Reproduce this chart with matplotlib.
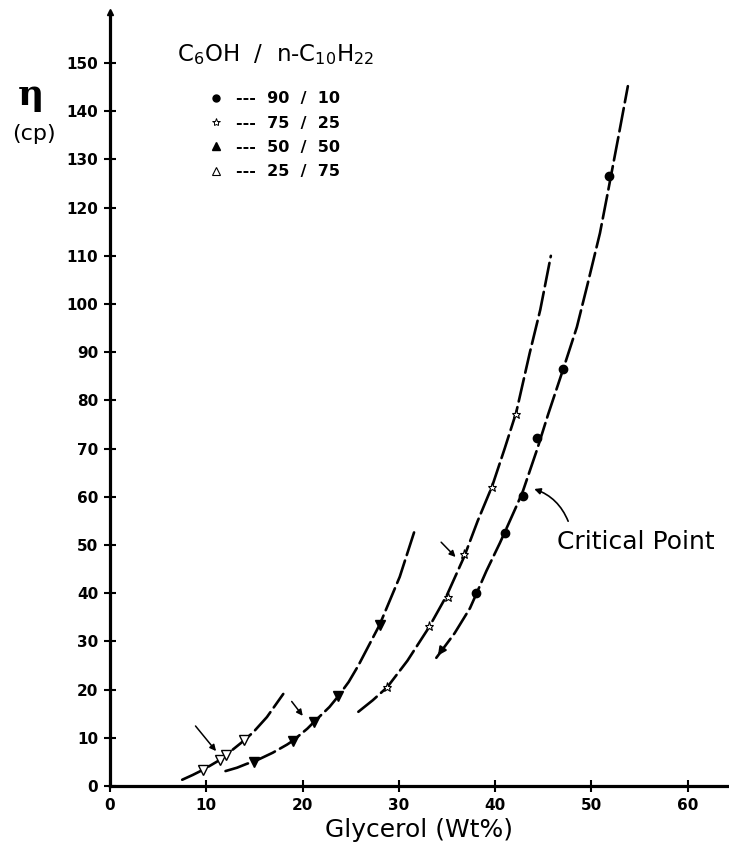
import matplotlib
matplotlib.use("Agg")
from matplotlib import pyplot as plt
from matplotlib.lines import Line2D

# data points
x_90 = [38.0, 41.0, 42.9, 44.4, 47.1, 51.8]
y_90 = [40.0, 52.5, 60.2, 72.2, 86.5, 126.5]
x_75 = [28.8, 33.1, 35.1, 36.8, 39.7, 42.2]
y_75 = [20.5, 33.2, 39.2, 48.1, 62.0, 77.2]
x_50 = [15.0, 19.0, 21.2, 23.7, 28.0]
y_50 = [5.0, 9.4, 13.3, 18.7, 33.4]
x_25 = [9.7, 11.4, 12.1, 13.9]
y_25 = [3.4, 5.4, 6.5, 9.5]

# hand drawn curves
cx_25 = [7.5, 8.6, 9.7, 11.4, 12.1, 13.9, 14.9, 16.3, 18.0]
cy_25 = [1.3, 2.3, 3.4, 5.4, 6.5, 9.4, 11.2, 14.3, 19.1]
cx_50 = [12.0, 13.2, 14.2, 15.0, 16.9, 18.4, 19.0, 20.5, 21.2, 22.8, 23.7,
         24.8, 25.8, 28.0, 30.1, 31.7]
cy_50 = [3.1, 3.8, 4.6, 5.1, 6.9, 8.6, 9.4, 11.9, 13.3, 16.4, 18.6,
         21.6, 25.0, 33.4, 43.4, 53.3]
cx_75 = [25.8, 27.3, 28.8, 30.9, 33.1, 35.0, 36.8, 38.2, 39.7, 41.0, 42.2,
         43.6, 44.7, 45.8]
cy_75 = [15.4, 17.8, 20.5, 26.0, 32.8, 39.6, 47.6, 55.0, 62.2, 70.0, 77.5,
         89.8, 98.8, 110.0]
cx_90 = [33.9, 35.8, 37.4, 38.0, 39.1, 40.5, 41.0, 42.3, 42.9, 44.4, 45.5,
         46.5, 47.1, 48.5, 49.6, 50.9, 51.8, 52.8, 53.8]
cy_90 = [26.6, 31.7, 36.9, 39.6, 44.6, 50.4, 52.6, 58.4, 61.2, 70.0, 77.0,
         83.0, 86.6, 95.2, 104.0, 114.7, 124.0, 134.5, 145.2]

xticks = [0, 10, 20, 30, 40, 50, 60]
yticks = list(range(0, 151, 10))

fig = plt.figure(figsize=(7.29, 8.46), dpi=100)
ax = fig.add_axes([0.1509, 0.0709, 0.849, 0.915])

dash = (0, (9, 2.2))
for cx, cy in [(cx_25, cy_25), (cx_50, cy_50), (cx_75, cy_75), (cx_90, cy_90)]:
    ax.plot(cx, cy, color='black', lw=1.9, linestyle=dash, solid_joinstyle='round',
            dash_capstyle='round', dash_joinstyle='round', zorder=2)

ax.plot(x_90, y_90, 'o', color='black', ms=6, zorder=3)
ax.plot(x_75, y_75, '*', mfc='white', mec='black', mew=0.8, ms=6.5, zorder=3)
ax.plot(x_50, y_50, 'v', color='black', ms=7, zorder=3)
ax.plot(x_25, y_25, 'v', mfc='white', mec='black', mew=1.0, ms=7, zorder=3)

ax.set_xlim(0, 64.3)
ax.set_ylim(0, 160.6)
ax.set_xticks(xticks)
ax.set_yticks(yticks)
ax.set_xticklabels([str(t) for t in xticks], fontweight='bold', fontsize=11)
ax.set_yticklabels([str(t) for t in yticks], fontweight='bold', fontsize=11)
ax.tick_params(direction='inout', length=9, width=1.5, pad=4)
for s in ['top', 'right']:
    ax.spines[s].set_visible(False)
for s in ['left', 'bottom']:
    ax.spines[s].set_linewidth(2.3)
ax.plot(0, 1, '^', color='black', ms=5, transform=ax.transAxes, clip_on=False)

ax.text(-0.128, 0.893, 'η', fontsize=26, family='DejaVu Serif', fontweight='bold',
        ha='center', va='center', transform=ax.transAxes)
ax.text(-0.123, 0.842, '(cp)', fontsize=16, ha='center', va='center',
        transform=ax.transAxes)
ax.set_xlabel('Glycerol (Wt%)', fontsize=18, labelpad=4)

# legend
ax.text(0.109, 0.945, r'C$_6$OH  /  n-C$_{10}$H$_{22}$', fontsize=16.5,
        ha='left', va='center', transform=ax.transAxes)
handles = [Line2D([], [], ls='none', marker='o', color='black', ms=5),
           Line2D([], [], ls='none', marker='*', mfc='white', mec='black', mew=0.7, ms=6),
           Line2D([], [], ls='none', marker='^', color='black', ms=6),
           Line2D([], [], ls='none', marker='^', mfc='white', mec='black', mew=0.8, ms=6)]
labels = ['---  90  /  10', '---  75  /  25', '---  50  /  50', '---  25  /  75']
leg = ax.legend(handles, labels, loc='upper left', bbox_to_anchor=(0.137, 0.916),
                frameon=False, handlelength=0.8, handletextpad=0.9, labelspacing=0.58,
                prop={'weight': 'bold', 'size': 11.5})

# arrows
arw = dict(arrowstyle='-|>', color='black', lw=1.1, mutation_scale=9)
ax.annotate('', xy=(11.2, 6.8), xytext=(8.7, 12.9), arrowprops=arw)
ax.annotate('', xy=(20.2, 14.1), xytext=(18.7, 18.0), arrowprops=arw)
ax.annotate('', xy=(36.1, 47.1), xytext=(34.2, 51.0), arrowprops=arw)
ax.annotate('', xy=(33.9, 26.6), xytext=(34.6, 28.6),
            arrowprops=dict(arrowstyle='-|>', color='black', lw=1.5, mutation_scale=12))
ax.annotate('', xy=(43.8, 61.8), xytext=(47.7, 54.4),
            arrowprops=dict(arrowstyle='-|>', color='black', lw=1.2, mutation_scale=9,
                            connectionstyle='arc3,rad=0.25'))
ax.text(46.4, 50.6, 'Critical Point', fontsize=18, ha='left', va='center')

fig.savefig('out.png', dpi=100)
